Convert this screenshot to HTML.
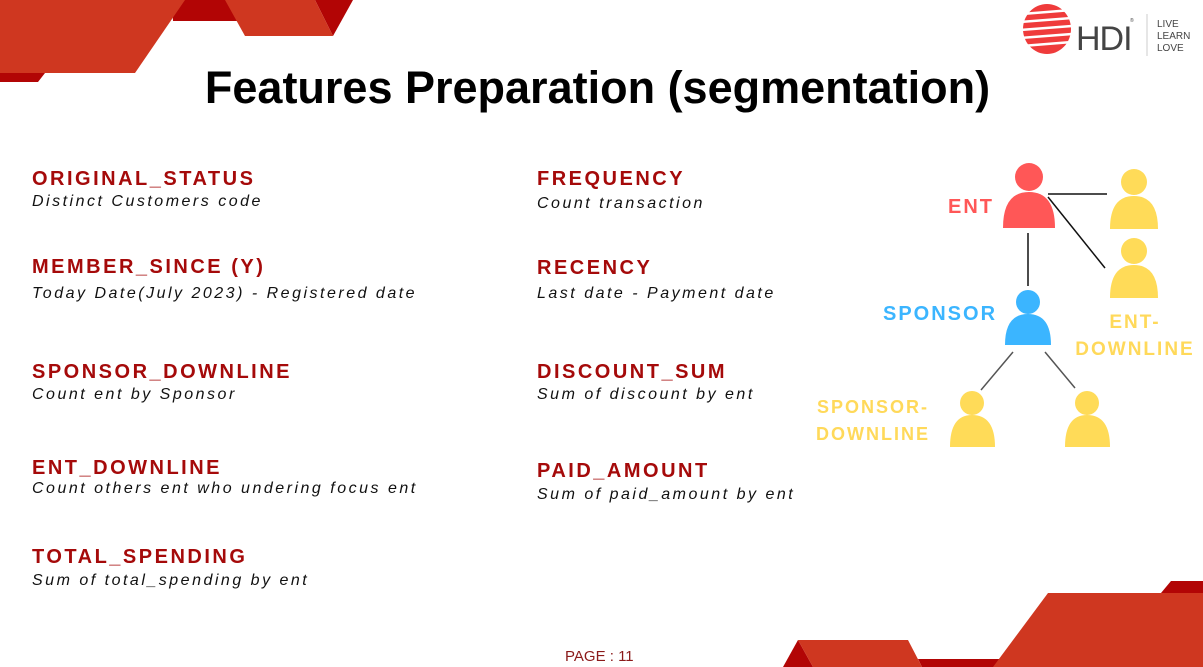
<!DOCTYPE html>
<html><head><meta charset="utf-8">
<style>
body{margin:0;width:1203px;height:667px;overflow:hidden;background:#fff;position:relative;font-family:"Liberation Sans",sans-serif}
.h{position:absolute;font-weight:bold;font-size:20px;letter-spacing:2.5px;color:#a50a0a;white-space:nowrap}
.s{position:absolute;font-style:italic;font-size:16px;letter-spacing:2.5px;color:#111;white-space:nowrap}
.t{position:absolute;left:0;width:1195px;text-align:center;top:62px;font-weight:bold;font-size:45px;color:#000}
.l{font-family:"Liberation Sans",sans-serif;font-weight:bold;letter-spacing:2px}
</style></head><body>
<svg width="1203" height="667" style="position:absolute;left:0;top:0">
<polygon points="0,73 45,73 38,82 0,82" fill="#b20505"/>
<polygon points="172,0 235,0 245,21 173,21" fill="#b20505"/>
<polygon points="0,0 185,0 135,73 0,73" fill="#cf3720"/>
<polygon points="315,0 353,0 333,36" fill="#b20505"/>
<polygon points="225,0 315,0 333,36 245,36" fill="#cf3720"/>
<polygon points="783,667 798,640 813,667" fill="#b20505"/>
<polygon points="798,640 908,640 922,667 813,667" fill="#cf3720"/>
<polygon points="918,659 1000,659 995,667 922,667" fill="#b20505"/>
<polygon points="1161,593 1171,581 1203,581 1203,593" fill="#b20505"/>
<polygon points="1048,593 1203,593 1203,667 993,667" fill="#cf3720"/>
</svg>
<svg width="190" height="60" style="position:absolute;top:0;left:1020px">
<ellipse cx="27" cy="29" rx="24" ry="25" fill="#ef3b3b"/>
<g stroke="#fff" stroke-width="2.5"><line x1="2" y1="14" x2="52" y2="10"/><line x1="0" y1="22" x2="52" y2="18"/><line x1="0" y1="30" x2="52" y2="26"/><line x1="0" y1="38" x2="52" y2="34"/><line x1="2" y1="46" x2="52" y2="42"/></g>
<text x="56" y="50" font-family="Liberation Sans" font-size="34" fill="#444" letter-spacing="-1">HDI</text>
<text x="110" y="22" font-size="5" fill="#444">®</text>
<line x1="127" y1="14" x2="127" y2="56" stroke="#ccc"/>
<text x="137" y="27" font-size="10" fill="#444" font-family="Liberation Sans">LIVE</text>
<text x="137" y="39" font-size="10" fill="#444" font-family="Liberation Sans">LEARN</text>
<text x="137" y="51" font-size="10" fill="#444" font-family="Liberation Sans">LOVE</text>
</svg>
<div class="t">Features Preparation (segmentation)</div>

<div class="h" style="left:32px;top:168px">ORIGINAL_STATUS</div>
<div class="s" style="left:32px;top:193px">Distinct Customers code</div>
<div class="h" style="left:32px;top:256px">MEMBER_SINCE (Y)</div>
<div class="s" style="left:32px;top:285px">Today Date(July 2023) - Registered date</div>
<div class="h" style="left:32px;top:361px">SPONSOR_DOWNLINE</div>
<div class="s" style="left:32px;top:386px">Count ent by Sponsor</div>
<div class="h" style="left:32px;top:457px">ENT_DOWNLINE</div>
<div class="s" style="left:32px;top:480px">Count others ent who undering focus ent</div>
<div class="h" style="left:32px;top:546px">TOTAL_SPENDING</div>
<div class="s" style="left:32px;top:572px">Sum of total_spending by ent</div>

<div class="h" style="left:537px;top:168px">FREQUENCY</div>
<div class="s" style="left:537px;top:195px">Count transaction</div>
<div class="h" style="left:537px;top:257px">RECENCY</div>
<div class="s" style="left:537px;top:285px">Last date - Payment date</div>
<div class="h" style="left:537px;top:361px">DISCOUNT_SUM</div>
<div class="s" style="left:537px;top:386px">Sum of discount by ent</div>
<div class="h" style="left:537px;top:460px">PAID_AMOUNT</div>
<div class="s" style="left:537px;top:486px">Sum of paid_amount by ent</div>

<svg width="1203" height="667" style="position:absolute;left:0;top:0">
<g stroke="#111" stroke-width="1.5">
<line x1="1048" y1="194" x2="1107" y2="194"/><line x1="1048" y1="197" x2="1105" y2="268"/>
<line x1="1028" y1="233" x2="1028" y2="286"/></g>
<g stroke="#555" stroke-width="1.5"><line x1="1013" y1="352" x2="981" y2="390"/><line x1="1045" y1="352" x2="1075" y2="388"/></g>
<g fill="#ff5757"><circle cx="1029" cy="177" r="14"/><path d="M1003,228 Q1003,192 1029,192 Q1055,192 1055,228 Z"/></g>
<g fill="#ffdb58">
<circle cx="1134" cy="182" r="13"/><path d="M1110,229 Q1110,196 1134,196 Q1158,196 1158,229 Z"/>
<circle cx="1134" cy="251" r="13"/><path d="M1110,298 Q1110,265 1134,265 Q1158,265 1158,298 Z"/>
<circle cx="972" cy="403" r="12"/><path d="M950,447 Q950,415 972,415 Q995,415 995,447 Z"/>
<circle cx="1087" cy="403" r="12"/><path d="M1065,447 Q1065,415 1087,415 Q1110,415 1110,447 Z"/>
</g>
<g fill="#3bb5ff"><circle cx="1028" cy="302" r="12"/><path d="M1005,345 Q1005,314 1028,314 Q1051,314 1051,345 Z"/></g>
<text class="l" x="948" y="213" font-size="20" fill="#ff5757">ENT</text>
<text class="l" x="883" y="320" font-size="20" fill="#3bb5ff">SPONSOR</text>
<text class="l" x="1135" y="328" font-size="19" fill="#ffd95a" text-anchor="middle">ENT-</text>
<text class="l" x="1135" y="355" font-size="19" fill="#ffd95a" text-anchor="middle">DOWNLINE</text>
<text class="l" x="873" y="413" font-size="18" fill="#ffd95a" text-anchor="middle">SPONSOR-</text>
<text class="l" x="873" y="440" font-size="18" fill="#ffd95a" text-anchor="middle">DOWNLINE</text>
</svg>
<div style="position:absolute;left:565px;top:648px;font-size:15px;color:#8b1a1a">PAGE : 11</div>
</body></html>
